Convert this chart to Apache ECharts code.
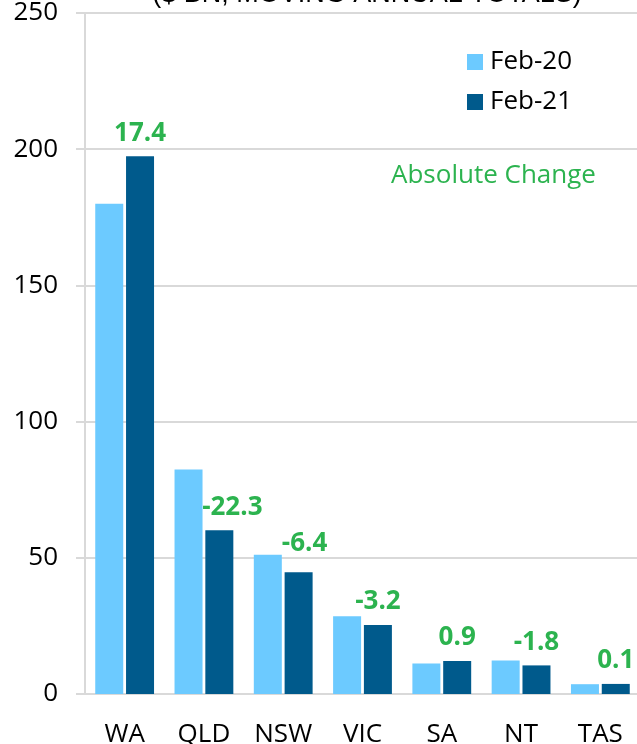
<!DOCTYPE html>
<html><head><meta charset="utf-8">
<script src="https://cdn.jsdelivr.net/npm/echarts@6/dist/echarts.min.js"></script>
<style>html,body{margin:0;padding:0;background:#fff}#c{width:637px;height:744px}</style>
</head><body><div id="c"></div>
<script>
const categories = ['WA','QLD','NSW','VIC','SA','NT','TAS'];
const feb20 = [180.0, 82.4, 51.1, 28.5, 11.2, 12.3, 3.6];
const feb21 = [197.4, 60.1, 44.7, 25.3, 12.1, 10.5, 3.7];
const changes = ['17.4','-22.3','-6.4','-3.2','0.9','-1.8','0.1'];
const yTicks = [0, 50, 100, 150, 200, 250];

const green = '#2cb34f';
const font = 'Open Sans';
const chart = echarts.init(document.getElementById('c'), null, {renderer:'canvas'});
chart.setOption({
  animation:false,
  title:{text:'($ BN, MOVING ANNUAL TOTALS)', left:362, textAlign:'center', top:-24,
    textStyle:{fontFamily:'Liberation Sans', fontSize:27, fontWeight:'normal', color:'#000'}},
  legend:{orient:'vertical', left:462, top:44, itemWidth:16, itemHeight:16, itemGap:14,
    icon:'rect', textStyle:{fontFamily:font, fontSize:26, color:'#000', padding:[0,0,0,2]},
    data:['Feb-20','Feb-21']},
  graphic:[{type:'text', left:391, top:163,
    style:{text:'Absolute Change', fill:green, font:'26px "Open Sans"'}}],
  grid:{left:85, top:13, width:555, bottom:50, containLabel:false, outerBoundsMode:'none'},
  xAxis:{type:'category', data:categories,
    axisLine:{lineStyle:{color:'#d9d9d9', width:2}}, axisTick:{show:false},
    axisLabel:{fontFamily:font, fontSize:26, color:'#000', margin:28}},
  yAxis:{type:'value', min:0, max:250, interval:50,
    axisLine:{show:true, lineStyle:{color:'#d9d9d9', width:2}},
    axisTick:{show:true, length:9, lineStyle:{color:'#d9d9d9', width:2}},
    splitLine:{lineStyle:{color:'#d9d9d9', width:2}},
    axisLabel:{fontFamily:font, fontSize:26, color:'#000', margin:27,
      formatter:v => yTicks.includes(v) ? String(v) : ''}},
  series:[
    {name:'Feb-20', type:'bar', data:feb20, barWidth:28, barGap:'10%',
      itemStyle:{color:'#6ccaff'}},
    {name:'Feb-21', type:'bar', data:feb21.map((v,i)=>({value:v,
        label: i===1 ? {offset:[13,0]} : (i===2 ? {offset:[6,-6]} : undefined)})),
      barWidth:28, barGap:'10%',
      itemStyle:{color:'#005a8c'},
      label:{show:true, position:'top', distance:10, color:green, fontFamily:font,
        fontSize:26, fontWeight:'bold', formatter:p => changes[p.dataIndex]}}
  ]
});
</script></body></html>
